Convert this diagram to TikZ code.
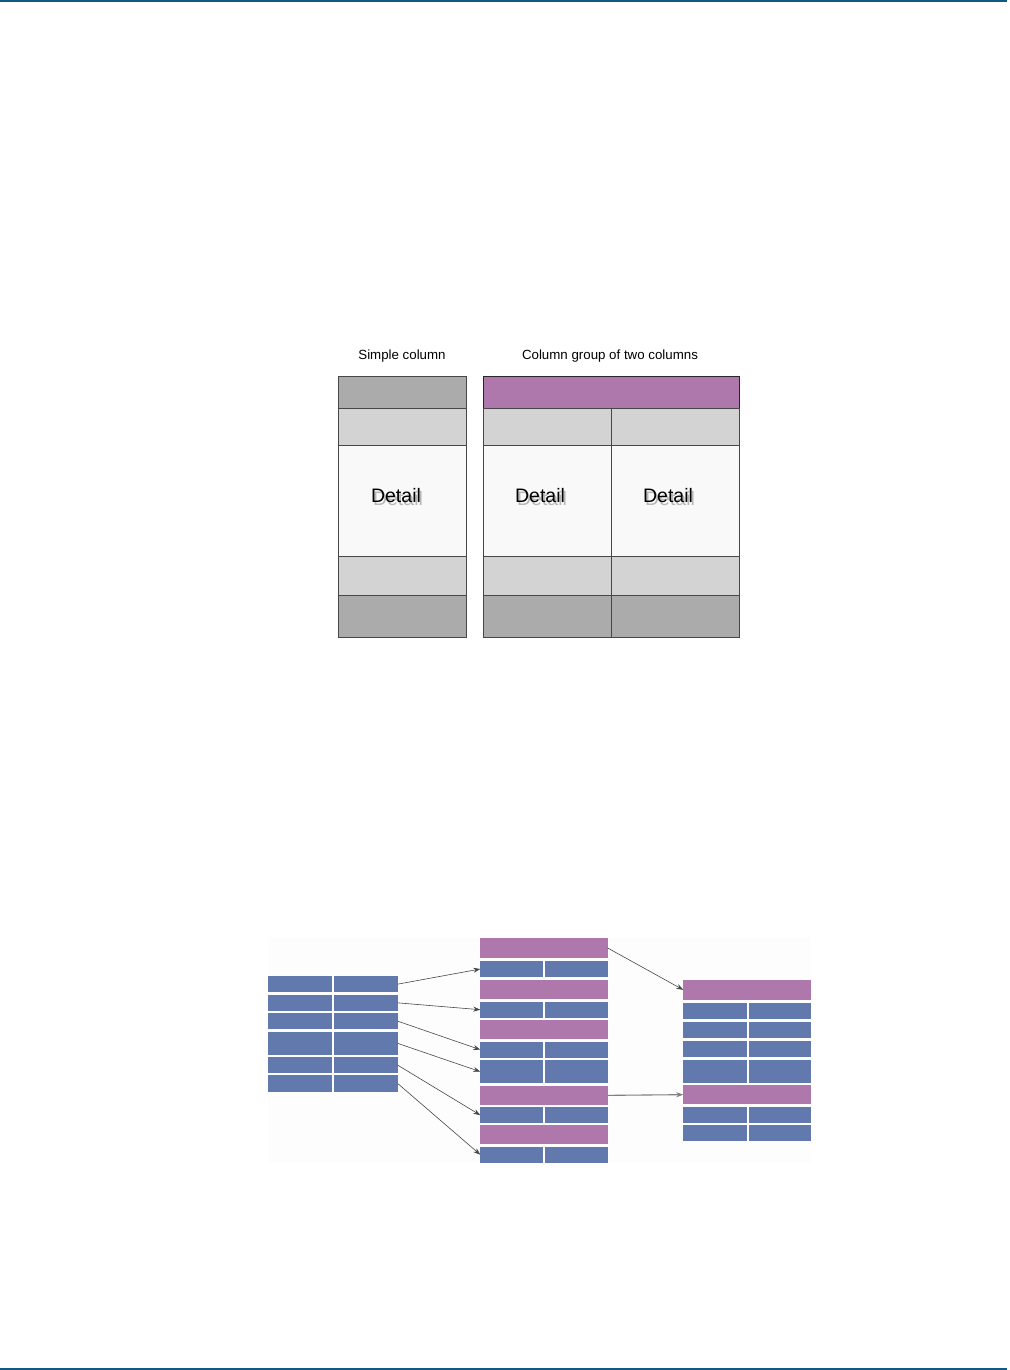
\documentclass[tikz,border=0pt]{standalone}
\usepackage{fontspec}
\setmainfont{Liberation Sans}
\usetikzlibrary{arrows.meta}

\definecolor{headgray}{HTML}{ABABAB}
\definecolor{subgray}{HTML}{D3D3D3}
\definecolor{detwhite}{HTML}{F9F9F9}
\definecolor{grouppurple}{HTML}{AE78AC}
\definecolor{rowblue}{HTML}{6279AE}
\definecolor{ruleblue}{HTML}{0E5A82}

\begin{document}
\begin{tikzpicture}[
    x=1pt, y=-1pt,
    cell/.style={rectangle, anchor=north west, inner sep=0pt, outer sep=0pt},
    sz/.style 2 args={minimum width=#1, minimum height=#2},
    gcell/.style={cell, draw=black!72, line width=0.7pt},
    headcell/.style={gcell, fill=headgray},
    subcell/.style={gcell, fill=subgray},
    detcell/.style={gcell, fill=detwhite},
    groupcell/.style={gcell, fill=grouppurple, draw=black!85},
    pcell/.style={cell, fill=grouppurple},
    bcell/.style={cell, fill=rowblue},
    title/.style={font=\fontsize{13.3}{16}\selectfont},
    dtxt/.style={font=\fontsize{19.5}{23}\selectfont, inner sep=0pt},
    dshadow/.style={dtxt, text=black!28},
    arrow/.style={-{Stealth[length=7pt, width=5pt]}, line width=0.6pt, color=black!72},
    garrow/.style={arrow, color=black!50, line width=1.1pt},
    rule/.style={line width=2pt, color=ruleblue},
]
    \useasboundingbox (0,0) rectangle (1009,1370);

    % Page rules
    \draw[rule] (0,1) -- (1007,1);
    \draw[rule, line width=1.5pt] (0,1368.8) -- (1007,1368.8);

    % Titles
    \node[title] (simpletitle) at (402,356) {Simple column};
    \node[title] (grouptitle) at (610,356) {Column group of two columns};

    % Simple column
    \node[headcell, sz={128.7}{32.7}] (shead) at (338,376) {};
    \node[subcell, sz={128.7}{36.6}] (ssub) at (338,408.7) {};
    \node[detcell, sz={128.7}{110.7}] (sdet) at (338,445.3) {};
    \node[subcell, sz={128.7}{39.3}] (sfoot) at (338,556) {};
    \node[headcell, sz={128.7}{42.4}] (send) at (338,595.3) {};

    % Column group
    \node[groupcell, sz={256.3}{32.7}] (ghead) at (483,376) {};
    \node[subcell, sz={128.7}{36.6}] (gsubl) at (483,408.7) {};
    \node[subcell, sz={127.6}{36.6}] (gsubr) at (611.7,408.7) {};
    \node[detcell, sz={128.7}{110.7}] (gdetl) at (483,445.3) {};
    \node[detcell, sz={127.6}{110.7}] (gdetr) at (611.7,445.3) {};
    \node[subcell, sz={128.7}{39.3}] (gfootl) at (483,556) {};
    \node[subcell, sz={127.6}{39.3}] (gfootr) at (611.7,556) {};
    \node[headcell, sz={128.7}{42.4}] (gendl) at (483,595.3) {};
    \node[headcell, sz={127.6}{42.4}] (gendr) at (611.7,595.3) {};

    % Detail texts with shadow
    \node[dshadow] (sdetsh) at (398,498.2) {Detail};
    \node[dtxt] (sdettxt) at (396,496) {Detail};
    \node[dshadow] (gdetlsh) at (542,498.2) {Detail};
    \node[dtxt] (gdetltxt) at (540,496) {Detail};
    \node[dshadow] (gdetrsh) at (670,498.2) {Detail};
    \node[dtxt] (gdetrtxt) at (668,496) {Detail};

    % Background of lower picture
    \fill[black!0.8] (268,937) rectangle (811,1163);

    % Source rows
    \node[bcell, sz={64}{16.3}] (la1) at (268,976) {};   \node[bcell, sz={63.7}{16.3}] (lb1) at (334,976) {};
    \node[bcell, sz={64}{16.3}] (la2) at (268,994.7) {}; \node[bcell, sz={63.7}{16.3}] (lb2) at (334,994.7) {};
    \node[bcell, sz={64}{16.3}] (la3) at (268,1013) {};  \node[bcell, sz={63.7}{16.3}] (lb3) at (334,1013) {};
    \node[bcell, sz={64}{23.3}] (la4) at (268,1031.7) {};\node[bcell, sz={63.7}{23.3}] (lb4) at (334,1031.7) {};
    \node[bcell, sz={64}{16.3}] (la5) at (268,1057) {};  \node[bcell, sz={63.7}{16.3}] (lb5) at (334,1057) {};
    \node[bcell, sz={64}{16.4}] (la6) at (268,1075.3) {};\node[bcell, sz={63.7}{16.4}] (lb6) at (334,1075.3) {};

    % Grouped rows
    \node[pcell, sz={127.4}{20}] (mp1) at (480.3,938) {};
    \node[bcell, sz={62.4}{16.6}] (mb1) at (480.3,960.7) {};  \node[bcell, sz={63.2}{16.6}] (mc1) at (544.5,960.7) {};
    \node[pcell, sz={127.4}{19.3}] (mp2) at (480.3,980) {};
    \node[bcell, sz={62.4}{16}] (mb2) at (480.3,1001.7) {};   \node[bcell, sz={63.2}{16}] (mc2) at (544.5,1001.7) {};
    \node[pcell, sz={127.4}{19}] (mp3) at (480.3,1020.3) {};
    \node[bcell, sz={62.4}{16}] (mb3) at (480.3,1041.7) {};   \node[bcell, sz={63.2}{16}] (mc3) at (544.5,1041.7) {};
    \node[bcell, sz={62.4}{23.3}] (mb4) at (480.3,1060) {};   \node[bcell, sz={63.2}{23.3}] (mc4) at (544.5,1060) {};
    \node[pcell, sz={127.4}{18.7}] (mp4) at (480.3,1086) {};
    \node[bcell, sz={62.4}{16.3}] (mb5) at (480.3,1107) {};   \node[bcell, sz={63.2}{16.3}] (mc5) at (544.5,1107) {};
    \node[pcell, sz={127.4}{18.7}] (mp5) at (480.3,1125.3) {};
    \node[bcell, sz={62.4}{16}] (mb6) at (480.3,1146.7) {};   \node[bcell, sz={63.2}{16}] (mc6) at (544.5,1146.7) {};

    % Result rows
    \node[pcell, sz={127.7}{19.7}] (rp1) at (683.3,980) {};
    \node[bcell, sz={63.4}{16.6}] (rb1) at (683.3,1002.7) {}; \node[bcell, sz={62.3}{16.6}] (rc1) at (748.7,1002.7) {};
    \node[bcell, sz={63.4}{16.3}] (rb2) at (683.3,1022) {};   \node[bcell, sz={62.3}{16.3}] (rc2) at (748.7,1022) {};
    \node[bcell, sz={63.4}{16.3}] (rb3) at (683.3,1041) {};   \node[bcell, sz={62.3}{16.3}] (rc3) at (748.7,1041) {};
    \node[bcell, sz={63.4}{23.3}] (rb4) at (683.3,1059.7) {}; \node[bcell, sz={62.3}{23.3}] (rc4) at (748.7,1059.7) {};
    \node[pcell, sz={127.7}{18.7}] (rp2) at (683.3,1085.3) {};
    \node[bcell, sz={63.4}{16.6}] (rb5) at (683.3,1106.7) {}; \node[bcell, sz={62.3}{16.6}] (rc5) at (748.7,1106.7) {};
    \node[bcell, sz={63.4}{16.3}] (rb6) at (683.3,1125) {};   \node[bcell, sz={62.3}{16.3}] (rc6) at (748.7,1125) {};

    % Connections
    \draw[arrow] (lb1.east) -- (mb1.west);
    \draw[arrow] (lb2.east) -- (mb2.west);
    \draw[arrow] (lb3.east) -- (mb3.west);
    \draw[arrow] (lb4.east) -- (mb4.west);
    \draw[arrow] (lb5.east) -- (mb5.west);
    \draw[arrow] (lb6.east) -- (mb6.west);
    \draw[arrow] (mp1.east) -- (rp1.west);
    \draw[garrow] (mp4.east) -- (rp2.west);
\end{tikzpicture}
\end{document}
